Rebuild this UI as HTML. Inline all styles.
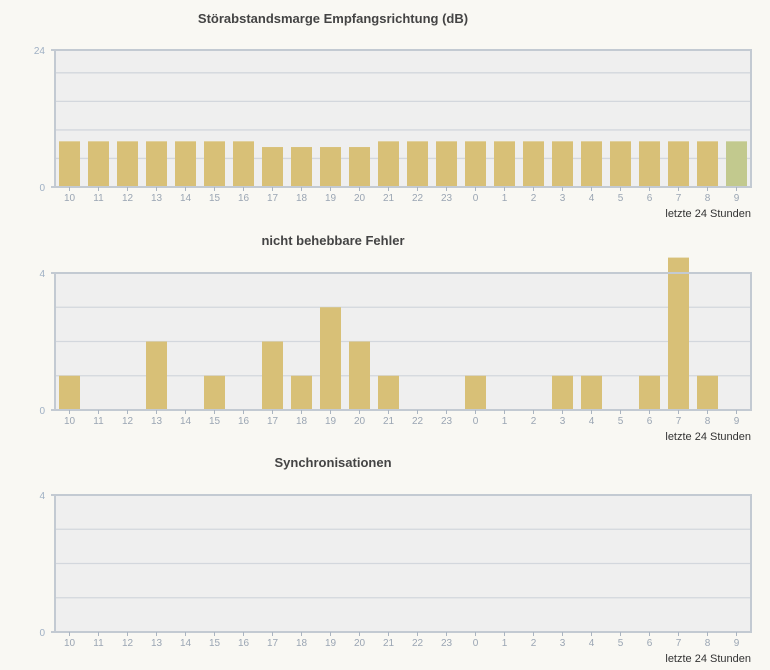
<!DOCTYPE html>
<html><head><meta charset="utf-8"><style>
html,body{margin:0;padding:0;background:#f9f8f3;}
svg{display:block;font-family:"Liberation Sans",sans-serif;}
</style></head><body>
<svg id="c" width="770" height="670" xmlns="http://www.w3.org/2000/svg"></svg>
<script>
const hours = [10,11,12,13,14,15,16,17,18,19,20,21,22,23,0,1,2,3,4,5,6,7,8,9];
const snrValues = [8,8,8,8,8,8,8,7,7,7,7,8,8,8,8,8,8,8,8,8,8,8,8,8];
const errorValues = [1,0,0,2,0,1,0,2,1,3,2,1,0,0,1,0,0,1,1,0,1,4.45,1,0];
const syncValues = [0,0,0,0,0,0,0,0,0,0,0,0,0,0,0,0,0,0,0,0,0,0,0,0];
const charts = [
  {name:'snr-chart', title:'Störabstandsmarge Empfangsrichtung (dB)', max:24, step:5, top:50, values:snrValues, titleY:23},
  {name:'errors-chart', title:'nicht behebbare Fehler', max:4, step:1, top:273, values:errorValues, titleY:245},
  {name:'sync-chart', title:'Synchronisationen', max:4, step:1, top:495, values:syncValues, titleY:467}
];
const svg = document.getElementById('c');
const NS = 'http://www.w3.org/2000/svg';
function mk(tag, attrs, parent){const e=document.createElementNS(NS,tag);for(const k in attrs)e.setAttribute(k,attrs[k]);parent.appendChild(e);return e;}
const L=55, R=751, H=137, slot=(R-L)/hours.length, bw=21;
charts.forEach(ch=>{
  const g=mk('g',{},svg);
  
  
  const bottom=ch.top+H;
  const y=v=>bottom - v/ch.max*H;
  const x=i=>L+slot*(i+0.5);
  const t=mk('text',{x:333,y:ch.titleY,'text-anchor':'middle','font-size':13,'font-weight':'bold',fill:'#444'},g);
  t.textContent=ch.title;
  
  
  mk('rect',{x:L,y:ch.top,width:R-L,height:H,fill:'#efefef'},g);
  for(let v=ch.step; v<ch.max; v+=ch.step){
    mk('line',{x1:L,x2:R,y1:y(v),y2:y(v),stroke:'#d3d7dd','stroke-width':1.3},g);
  }
  ch.values.forEach((v,i)=>{
    if(v<=0) return;
    const b=mk('rect',{x:x(i)-bw/2,y:y(v),width:bw,height:bottom-y(v),fill:(ch.name==='snr-chart'&&i===hours.length-1)?'#c2c98e':'#d8c077'},g);
    
    
  });
  mk('rect',{x:L,y:ch.top,width:R-L,height:H,fill:'none',stroke:'#c3cad2','stroke-width':2},g);
  [[0,bottom],[ch.max,ch.top]].forEach(([v,yy])=>{
    mk('line',{x1:L-4,x2:L,y1:yy,y2:yy,stroke:'#c3cad2','stroke-width':2},g);
    const tl=mk('text',{x:L-10,y:yy+4,'text-anchor':'end','font-size':10,fill:'#9fb0c4'},g);
    tl.textContent=v;
  });
  hours.forEach((h,i)=>{
    mk('line',{x1:x(i),x2:x(i),y1:bottom,y2:bottom+4,stroke:'#aab4c0','stroke-width':1},g);
    const tl=mk('text',{x:x(i),y:bottom+14,'text-anchor':'middle','font-size':10,fill:'#9aa5b3'},g);
    tl.textContent=h;
  });
  const xl=mk('text',{x:R,y:bottom+30,'text-anchor':'end','font-size':11,fill:'#333'},g);
  xl.textContent='letzte 24 Stunden';
  
  
});
</script>
</body></html>
